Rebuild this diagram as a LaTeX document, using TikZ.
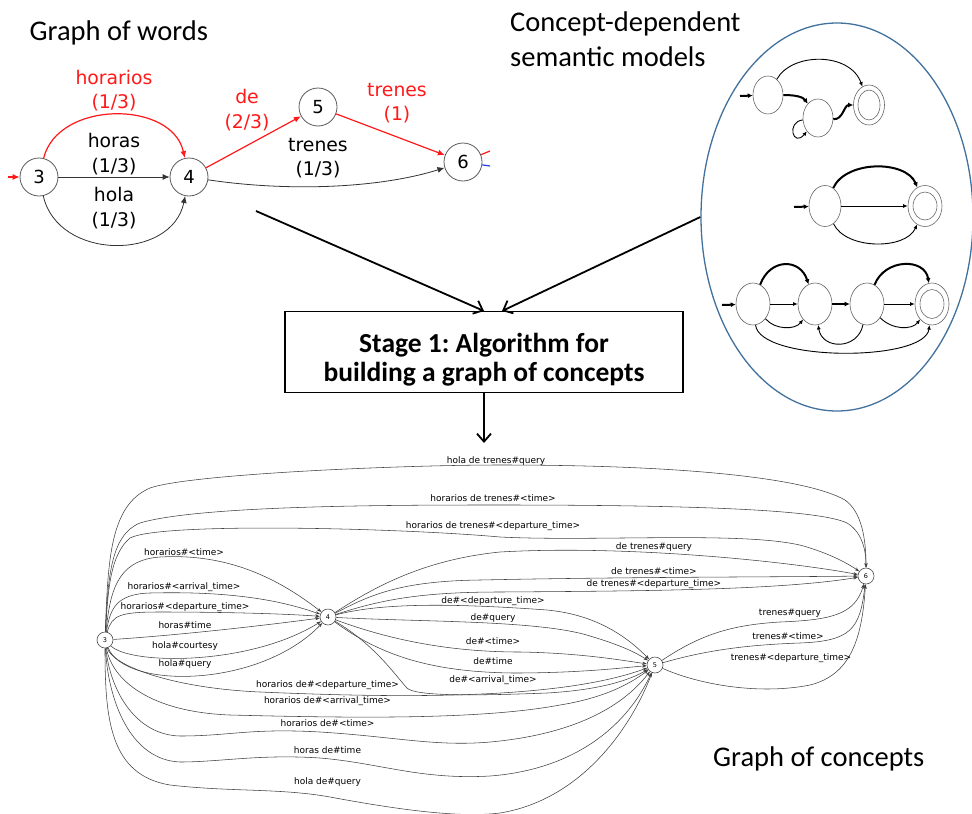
\documentclass[tikz,border=0pt]{standalone}
\usepackage{fontspec}
\setmainfont{Carlito}
\newfontfamily\graphfont{DejaVu Sans}
\usetikzlibrary{arrows.meta,shapes.geometric}
\frenchspacing

\definecolor{wordred}{RGB}{255,25,25}
\definecolor{ringblue}{RGB}{65,113,156}
\definecolor{stubblue}{RGB}{40,60,230}

\begin{document}
\begin{tikzpicture}[x=1pt,y=-1pt,
  title/.style={inner sep=0pt,font=\fontsize{28.5}{34}\selectfont},
  wnode/.style={circle,draw=black!65,line width=0.8pt,minimum size=38pt,inner sep=0pt,
    font=\graphfont\fontsize{18}{18}\selectfont},
  wlabel/.style={align=center,inner sep=0pt,font=\graphfont\fontsize{18.8}{24.5}\selectfont},
  blackedge/.style={draw=black!80,line width=0.8pt,-{Latex[length=7pt,width=6pt]}},
  rededge/.style={draw=wordred,line width=1.2pt,-{Latex[length=7pt,width=6pt]}},
  bigarrow/.style={draw=black,line width=1.8pt,-{Straight Barb[length=8pt,width=14pt]}},
  stagebox/.style={draw=black,line width=1.3pt,minimum width=398pt,minimum height=81pt,inner sep=0pt},
  stagetext/.style={align=center,inner sep=0pt,font=\bfseries\fontsize{27.5}{29}\selectfont},
  state/.style={ellipse,draw=black!60,line width=0.6pt,inner sep=0pt},
  thinarrow/.style={draw=black,line width=0.9pt,-{Latex[length=4.5pt,width=4pt]}},
  thickarrow/.style={draw=black,line width=2pt,-{Latex[length=5pt,width=5pt]}},
  cnode/.style={circle,draw=black!70,line width=0.6pt,minimum size=16pt,inner sep=0pt,
    font=\graphfont\fontsize{6.5}{6.5}\selectfont},
  cedge/.style={draw=black!75,line width=0.55pt,-{Stealth[length=4.5pt,width=3.2pt]}},
  clabel/.style={inner sep=0pt,font=\graphfont\fontsize{9}{9}\selectfont}
]
\useasboundingbox (0,0) rectangle (972,814);

% ---------- headings ----------
\node[title,anchor=base west] (tWords) at (29.5,40.7) {Graph of words};
\node[title,anchor=base west] (tModelsA) at (510,31.7) {Concept-dependent};
\node[title,anchor=base west] (tModelsB) at (510,66.7) {semantic models};
\node[title,anchor=base west] (tConcepts) at (713,766.7) {Graph of concepts};

% ---------- graph of words ----------
\node[wnode] (w3) at (39,177) {3};
\node[wnode] (w4) at (189,177) {4};
\node[wnode] (w5) at (318,107) {5};
\node[wnode] (w6) at (463,162) {6};
\coordinate (w3start) at (8,177);
\coordinate (w6red) at (490,151);
\coordinate (w6blue) at (490,166);

\draw[rededge] (w3start) -- (w3);
\draw[rededge] (w3) .. controls (58,100) and (172,100) .. (w4);
\draw[blackedge] (w3) -- (w4);
\draw[blackedge] (w3) .. controls (58,261) and (172,261) .. (w4);
\draw[rededge] (w4) -- (w5);
\draw[rededge] (w5) -- (w6);
\draw[blackedge] (w4) .. controls (290,192) and (380,188) .. (w6);
\draw[draw=wordred,line width=1.2pt] (w6) -- (w6red);
\draw[draw=stubblue,line width=1.2pt] (w6) -- (w6blue);

\node[wlabel,text=wordred] (lw1) at (114,90.5) {horarios\\(1/3)};
\node[wlabel] (lw2) at (114,154) {horas\\(1/3)};
\node[wlabel] (lw3) at (114,208) {hola\\(1/3)};
\node[wlabel,text=wordred] (lw4) at (247,110) {de\\(2/3)};
\node[wlabel,text=wordred] (lw5) at (397,103) {trenes\\(1)};
\node[wlabel] (lw6) at (318,158) {trenes\\(1/3)};

% ---------- semantic models ----------
\node[ellipse,draw=ringblue,line width=1.3pt,minimum width=272pt,minimum height=388pt,inner sep=0pt] (sem) at (837,217) {};

% first automaton
\node[state,minimum width=30pt,minimum height=38pt] (a1) at (768,95) {};
\node[state,minimum width=30pt,minimum height=38pt] (a2) at (818,118) {};
\node[state,minimum width=31pt,minimum height=40pt] (a3) at (869,105) {};
\node[state,minimum width=22pt,minimum height=30pt] (a3i) at (869,105) {};
\coordinate (a0) at (740,96);
\draw[thickarrow] (a0) -- (a1);
\draw[thinarrow] (a1) .. controls (792,52) and (850,52) .. (a3);
\draw[thickarrow] (a1) .. controls (796,95) and (803,97) .. (a2);
\draw[thickarrow] (a2) .. controls (843,120) and (844,105) .. (a3);
\draw[thinarrow] (a2) .. controls (786,122) and (793,148) .. (a2);

% second automaton
\node[state,minimum width=32pt,minimum height=41pt] (b1) at (825,206) {};
\node[state,minimum width=34pt,minimum height=41pt] (b2) at (925,206) {};
\node[state,minimum width=24pt,minimum height=28pt] (b2i) at (925,206) {};
\coordinate (b0) at (794,207);
\draw[thickarrow] (b0) -- (b1);
\draw[thickarrow] (b1) .. controls (846,160) and (906,160) .. (b2);
\draw[thinarrow] (b1) -- (b2);
\draw[thinarrow] (b1) .. controls (846,250) and (906,250) .. (b2);

% third automaton
\node[state,minimum width=34pt,minimum height=42pt] (m1) at (753,304) {};
\node[state,minimum width=34pt,minimum height=42pt] (m2) at (815,304) {};
\node[state,minimum width=34pt,minimum height=42pt] (m3) at (867,304) {};
\node[state,minimum width=34pt,minimum height=42pt] (m4) at (932,304) {};
\node[state,minimum width=24pt,minimum height=29pt] (m4i) at (932,304) {};
\coordinate (m0) at (722,305);
\draw[thickarrow] (m0) -- (m1);
\draw[thickarrow] (m1) .. controls (770,258) and (800,258) .. (m2);
\draw[thinarrow] (m1) -- (m2);
\draw[thinarrow] (m1) .. controls (775,330) and (795,330) .. (m2);
\draw[thickarrow,line width=2.5pt] (m2) -- (m3);
\draw[thinarrow] (m3) .. controls (858,350) and (822,350) .. (m2);
\draw[thickarrow] (m3) .. controls (885,258) and (925,258) .. (m4);
\draw[thinarrow] (m3) -- (m4);
\draw[thinarrow] (m3) .. controls (892,330) and (912,330) .. (m4);
\draw[thinarrow] (m1) .. controls (760,362) and (925,362) .. (m4);

% ---------- stage 1 ----------
\node[stagebox] (stage) at (484,352) {};
\node[stagetext] (stageText) at (484,359.5) {Stage 1: Algorithm for\\building a graph of concepts};
\coordinate (wordsTail) at (256,211);
\coordinate (stageInL) at (484,311);
\coordinate (stageInR) at (502,311);
\coordinate (conceptsIn) at (484,443);
\draw[bigarrow] (wordsTail) -- (stageInL);
\draw[bigarrow] (sem.west) -- (stageInR);
\draw[bigarrow] (stage.south) -- (conceptsIn);

% ---------- graph of concepts ----------
\node[cnode] (g3) at (105,640) {3};
\node[cnode] (g4) at (328,617) {4};
\node[cnode] (g5) at (655,665) {5};
\node[cnode] (g6) at (866,576) {6};

% 3 -> 6
\draw[cedge] (g3) .. controls (108,560) and (110,505) .. (150,488)
  .. controls (190,474) and (400,465) .. (500,465)
  .. controls (700,465) and (810,480) .. (845,500)
  .. controls (862,512) and (866,540) .. (g6);
\draw[cedge] (g3) .. controls (108,580) and (110,535) .. (140,523)
  .. controls (200,505) and (400,505) .. (500,505)
  .. controls (700,505) and (820,510) .. (847,523)
  .. controls (862,532) and (866,550) .. (g6);
\draw[cedge] (g3) .. controls (108,590) and (110,555) .. (130,538)
  .. controls (160,522) and (400,528) .. (500,537)
  .. controls (600,542) and (760,530) .. (810,548)
  .. controls (835,556) and (850,565) .. (g6);

% 3 -> 4
\draw[cedge] (g3) .. controls (110,595) and (115,560) .. (160,557)
  .. controls (230,553) and (280,580) .. (g4);
\draw[cedge] (g3) .. controls (110,610) and (115,594) .. (150,593)
  .. controls (230,591) and (280,600) .. (g4);
\draw[cedge] (g3) .. controls (112,615) and (120,612) .. (160,612)
  .. controls (230,612) and (290,614) .. (g4);
\draw[cedge] (g3) .. controls (180,635) and (260,626) .. (g4);
\draw[cedge] (g3) .. controls (130,665) and (250,666) .. (g4);
\draw[cedge] (g3) .. controls (125,690) and (260,688) .. (g4);

% 4 -> 6
\draw[cedge] (g4) .. controls (370,590) and (420,560) .. (500,552)
  .. controls (620,545) and (780,560) .. (g6);
\draw[cedge] (g4) .. controls (370,595) and (400,581) .. (480,580)
  .. controls (620,577) and (780,577) .. (g6);
\draw[cedge] (g4) .. controls (380,600) and (420,592) .. (500,592)
  .. controls (650,591) and (780,590) .. (g6);

% 4 -> 5
\draw[cedge] (g4) .. controls (380,603) and (450,603) .. (547,610)
  .. controls (600,615) and (630,640) .. (g5);
\draw[cedge] (g4) .. controls (420,622) and (540,620) .. (590,636)
  .. controls (620,645) and (635,652) .. (g5);
\draw[cedge] (g4) .. controls (390,640) and (450,652) .. (520,652)
  .. controls (580,653) and (620,660) .. (g5);
\draw[cedge] (g4) .. controls (380,655) and (430,672) .. (513,673)
  .. controls (580,673) and (620,668) .. (g5);
\draw[cedge] (g4) .. controls (375,645) and (395,675) .. (407,688)
  .. controls (415,696) and (470,696) .. (547,693)
  .. controls (600,690) and (630,680) .. (g5);

% 3 -> 5
\draw[cedge] (g3) .. controls (112,665) and (170,688) .. (260,692)
  .. controls (400,698) and (560,700) .. (g5);
\draw[cedge] (g3) .. controls (112,680) and (150,712) .. (230,715)
  .. controls (350,718) and (480,720) .. (560,705)
  .. controls (610,697) and (635,680) .. (g5);
\draw[cedge] (g3) .. controls (110,690) and (135,735) .. (180,736)
  .. controls (230,736) and (250,728) .. (320,732)
  .. controls (400,737) and (440,748) .. (500,741)
  .. controls (570,733) and (620,710) .. (g5);
\draw[cedge] (g3) .. controls (108,700) and (130,760) .. (180,762)
  .. controls (220,762) and (260,754) .. (320,758)
  .. controls (380,763) and (420,780) .. (490,776)
  .. controls (570,770) and (625,730) .. (g5);
\draw[cedge] (g3) .. controls (105,720) and (110,775) .. (170,785)
  .. controls (230,792) and (280,788) .. (330,797)
  .. controls (400,810) and (460,818) .. (500,813)
  .. controls (580,800) and (630,730) .. (g5);

% 5 -> 6
\draw[cedge] (g5) .. controls (700,635) and (730,625) .. (780,622)
  .. controls (830,620) and (855,615) .. (g6);
\draw[cedge] (g5) .. controls (700,652) and (740,645) .. (800,643)
  .. controls (850,641) and (860,630) .. (g6);
\draw[cedge] (g5) .. controls (700,685) and (760,695) .. (810,685)
  .. controls (850,675) and (862,640) .. (g6);

% edge labels
\node[clabel] (l1) at (496,461) {hola de trenes\#query};
\node[clabel] (l2) at (493,498) {horarios de trenes\#<time>};
\node[clabel] (l3) at (493,526) {horarios de trenes\#<departure\_time>};
\node[clabel] (l4) at (184,552) {horarios\#<time>};
\node[clabel] (l5) at (184,587) {horarios\#<arrival\_time>};
\node[clabel] (l6) at (185,607) {horarios\#<departure\_time>};
\node[clabel] (l7) at (185,625) {horas\#time};
\node[clabel] (l8) at (185,646) {hola\#courtesy};
\node[clabel] (l9) at (185,664) {hola\#query};
\node[clabel] (l10) at (654,547) {de trenes\#query};
\node[clabel] (l11) at (654,571) {de trenes\#<time>};
\node[clabel] (l12) at (654,584) {de trenes\#<departure\_time>};
\node[clabel] (l13) at (493,601) {de\#<departure\_time>};
\node[clabel] (l14) at (493,618) {de\#query};
\node[clabel] (l15) at (493,641) {de\#<time>};
\node[clabel] (l16) at (493,661) {de\#time};
\node[clabel] (l17) at (493,680) {de\#<arrival\_time>};
\node[clabel] (l18) at (327.5,685) {horarios de\#<departure\_time>};
\node[clabel] (l19) at (327.5,701) {horarios de\#<arrival\_time>};
\node[clabel] (l20) at (327.5,723) {horarios de\#<time>};
\node[clabel] (l21) at (327.5,750) {horas de\#time};
\node[clabel] (l22) at (327.5,782.5) {hola de\#query};
\node[clabel] (l23) at (790,613) {trenes\#query};
\node[clabel] (l24) at (788,636) {trenes\#<time>};
\node[clabel] (l25) at (791,658.5) {trenes\#<departure\_time>};
\end{tikzpicture}
\end{document}
